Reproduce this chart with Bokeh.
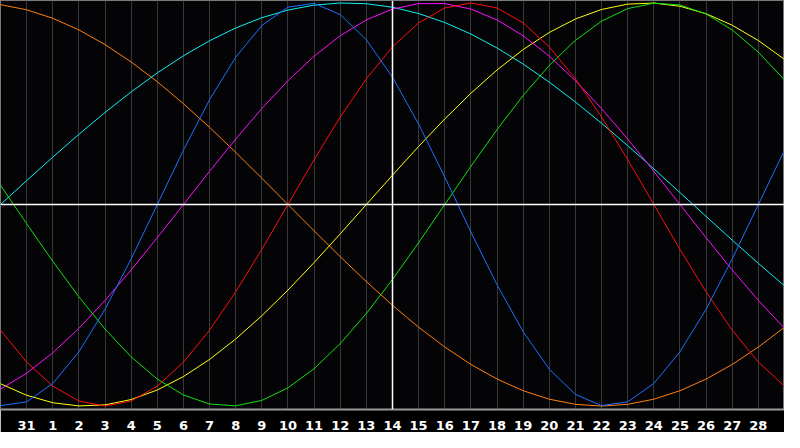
from bokeh.plotting import figure
from bokeh.models import ColumnDataSource, FixedTicker, Range1d, Span
from bokeh.embed import file_html
from bokeh.resources import INLINE

# Day slots across the chart (0 = left edge, 30 = right edge)
day_index = list(range(31))
tick_positions = list(range(1, 30))
tick_labels = ["31", "1", "2", "3", "4", "5", "6", "7", "8", "9", "10",
               "11", "12", "13", "14", "15", "16", "17", "18", "19", "20",
               "21", "22", "23", "24", "25", "26", "27", "28"]
today_index = 15

# Cycle values (-1 .. 1) read at each day slot
physical = [-0.9977, -0.9791, -0.8879, -0.7308, -0.5197, -0.2698, 0.0, 0.2698,
            0.5197, 0.7308, 0.8879, 0.9791, 0.9977, 0.9423, 0.8170, 0.6311,
            0.3984, 0.1362, -0.1362, -0.3984, -0.6311, -0.8170, -0.9423,
            -0.9977, -0.9791, -0.8879, -0.7308, -0.5197, -0.2698, 0.0, 0.2698]
emotional = [-0.6235, -0.7818, -0.9010, -0.9749, -1.0, -0.9749, -0.9010,
             -0.7818, -0.6235, -0.4339, -0.2225, 0.0, 0.2225, 0.4339, 0.6235,
             0.7818, 0.9010, 0.9749, 1.0, 0.9749, 0.9010, 0.7818, 0.6235,
             0.4339, 0.2225, 0.0, -0.2225, -0.4339, -0.6235, -0.7818, -0.9010]
intellectual = [0.0951, -0.0951, -0.2817, -0.4582, -0.6182, -0.7557, -0.8660,
                -0.9450, -0.9898, -0.9989, -0.9718, -0.9096, -0.8146, -0.6901,
                -0.5406, -0.3717, -0.1893, 0.0, 0.1893, 0.3717, 0.5406, 0.6901,
                0.8146, 0.9096, 0.9718, 0.9989, 0.9898, 0.9450, 0.8660, 0.7557,
                0.6182]
intuitive = [-0.9158, -0.8372, -0.7357, -0.6142, -0.4759, -0.3247, -0.1646, 0.0,
             0.1646, 0.3247, 0.4759, 0.6142, 0.7357, 0.8372, 0.9158, 0.9694,
             0.9966, 0.9966, 0.9694, 0.9158, 0.8372, 0.7357, 0.6142, 0.4759,
             0.3247, 0.1646, 0.0, -0.1646, -0.3247, -0.4759, -0.6142]
aesthetic = [-0.8893, -0.9464, -0.9834, -0.9993, -0.9940, -0.9675, -0.9203,
             -0.8536, -0.7686, -0.6673, -0.5518, -0.4245, -0.2881, -0.1456, 0.0,
             0.1456, 0.2881, 0.4245, 0.5518, 0.6673, 0.7686, 0.8536, 0.9203,
             0.9675, 0.9940, 0.9993, 0.9834, 0.9464, 0.8893, 0.8133, 0.7199]
awareness = [0.9914, 0.9659, 0.9239, 0.8660, 0.7934, 0.7071, 0.6088, 0.5,
             0.3827, 0.2588, 0.1305, 0.0, -0.1305, -0.2588, -0.3827, -0.5,
             -0.6088, -0.7071, -0.7934, -0.8660, -0.9239, -0.9659, -0.9914,
             -1.0, -0.9914, -0.9659, -0.9239, -0.8660, -0.7934, -0.7071, -0.6088]
spiritual = [0.0, 0.1183, 0.2349, 0.3482, 0.4566, 0.5586, 0.6528, 0.7378,
             0.8125, 0.8757, 0.9267, 0.9646, 0.9890, 0.9996, 0.9960, 0.9786,
             0.9473, 0.9028, 0.8456, 0.7765, 0.6966, 0.6068, 0.5085, 0.4031,
             0.2921, 0.1769, 0.0592, -0.0592, -0.1769, -0.2921, -0.4031]

series_names = ["awareness", "spiritual", "aesthetic", "intuitive",
                "intellectual", "emotional", "physical"]
series_colors = {
    "physical": "#1f6fff",
    "emotional": "#ff1010",
    "intellectual": "#10e010",
    "intuitive": "#ff10ff",
    "aesthetic": "#ffff10",
    "awareness": "#ff8010",
    "spiritual": "#10f0f0",
}

source = ColumnDataSource(data=dict(
    day=day_index, physical=physical, emotional=emotional,
    intellectual=intellectual, intuitive=intuitive, aesthetic=aesthetic,
    awareness=awareness, spiritual=spiritual,
))

p = figure(width=784, height=432, output_backend="svg", toolbar_location=None,
           x_range=Range1d(0, 30), y_range=Range1d(-1.017, 1.012),
           y_axis_location=None,
           min_border_left=0, min_border_right=0, min_border_top=0,
           min_border_bottom=0)

p.background_fill_color = "#040407"
p.border_fill_color = "#000000"
p.outline_line_color = "#7a7a7a"
p.outline_line_width = 1

p.xaxis.ticker = FixedTicker(ticks=tick_positions)
p.xaxis.major_label_overrides = {t: l for t, l in zip(tick_positions, tick_labels)}
p.xaxis.major_tick_line_color = None
p.xaxis.minor_tick_line_color = None
p.xaxis.axis_line_color = "#9a9a9a"
p.xaxis.axis_line_width = 2
p.xaxis.major_label_text_color = "#ffffff"
p.xaxis.major_label_text_font = "DejaVu Sans"
p.xaxis.major_label_text_font_style = "bold"
p.xaxis.major_label_text_font_size = "13px"
p.xaxis.major_label_standoff = 5

p.xgrid.ticker = FixedTicker(ticks=tick_positions)
p.xgrid.grid_line_color = "#383838"
p.xgrid.grid_line_width = 1
p.ygrid.grid_line_color = None

p.add_layout(Span(location=0, dimension="width", line_color="#ffffff", line_width=1.5))
p.add_layout(Span(location=today_index, dimension="height", line_color="#ffffff", line_width=1.5))

for name in series_names:
    p.line(x="day", y=name, source=source, line_color=series_colors[name], line_width=1)

open("out.html", "w").write(file_html(p, INLINE))
